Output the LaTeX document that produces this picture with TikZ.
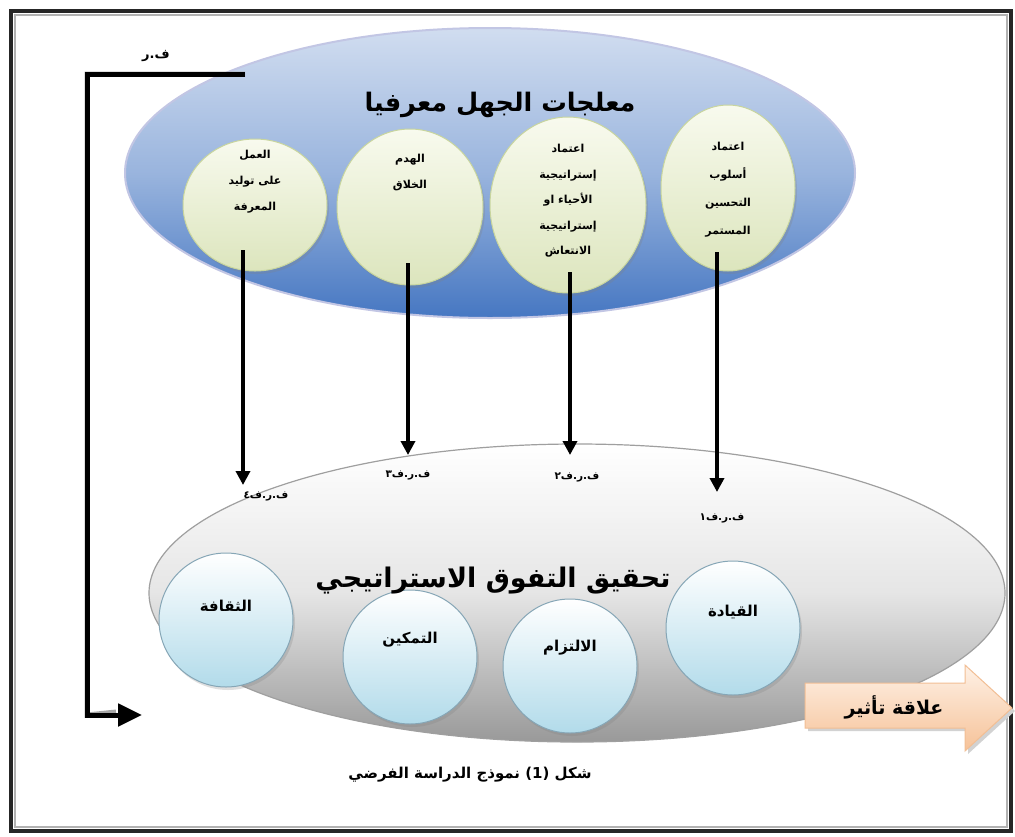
\documentclass[tikz,border=0pt]{standalone}
\usepackage{fontspec}
\TeXXeTstate=1
\newfontfamily\arabicfont[Script=Arabic]{DejaVu Sans}
\usetikzlibrary{shapes.geometric,arrows.meta,shadows}
\newcommand\arln[1]{\beginR #1\endR}

\tikzset{
  bigtop/.style={ellipse, draw=lavframe, line width=2, top color=#1!25!white, bottom color=#1, middle color=#1!55!white, inner sep=0},
  bigbot/.style={ellipse, draw=gray!75, line width=1.2, top color=white, bottom color=gray!80, middle color=gray!20, inner sep=0},
  topcirc/.style={ellipse, draw=greenrim, line width=1, top color=topfill1, bottom color=topfill2, inner sep=0,
    drop shadow={shadow xshift=2pt, shadow yshift=-3pt, opacity=.25}},
  botcirc/.style={circle, draw=bluerim, line width=1, top color=white, bottom color=botfill, inner sep=0,
    minimum size=134, drop shadow={shadow xshift=2pt, shadow yshift=-3pt, opacity=.25}},
  toptext/.style={font=\arabicfont\bfseries\fontsize{11}{26}\selectfont, align=center},
  bottext/.style={font=\arabicfont\bfseries\fontsize{15}{18}\selectfont},
  hyp/.style={font=\arabicfont\bfseries\fontsize{10.5}{12}\selectfont},
  flow/.style={line width=3.5, -{Triangle[length=14,width=14]}},
  fback/.style={line width=5, -{Triangle[length=24,width=22]}},
}
\definecolor{lavframe}{HTML}{C2C6E4}
\definecolor{topblue}{HTML}{4677C2}
\definecolor{greenrim}{HTML}{C8D59E}
\definecolor{topfill1}{HTML}{F8FAEE}
\definecolor{topfill2}{HTML}{DCE5BD}
\definecolor{bluerim}{HTML}{86A6B6}
\definecolor{botfill}{HTML}{B2DBEA}
\definecolor{peach1}{HTML}{FEF1E6}
\definecolor{peach2}{HTML}{F6C298}
\definecolor{peachrim}{HTML}{F2BE94}

\begin{document}
\begin{tikzpicture}[x=1pt,y=-1pt]
\useasboundingbox (0,0) rectangle (1015,836);
\fill[white] (0,0) rectangle (1015,836);

% page frame
\draw[line width=4, black!85] (11,11) rectangle (1011,831);
\draw[line width=1.5, gray!60] (15,15) rectangle (1007,827);

% lower ellipse: strategic superiority
\node[bigbot, minimum width=856, minimum height=298] (bot) at (577,593) {};

% upper ellipse: treating ignorance
\node[bigtop=topblue, minimum width=730, minimum height=290] (top) at (490,173) {};

\node[font=\arabicfont\bfseries\fontsize{25.5}{30}\selectfont] (toptitle) at (500,105) {\arln{معلجات الجهل معرفيا}};

% four treatment circles
\node[topcirc, minimum width=144, minimum height=132] (c1) at (255,205) {};
\node[topcirc, minimum width=146, minimum height=156] (c2) at (410,207) {};
\node[topcirc, minimum width=156, minimum height=176] (c3) at (568,205) {};
\node[topcirc, minimum width=134, minimum height=166] (c4) at (728,188) {};

\node[toptext] (t1) at (255,182) {\arln{العمل}\\\arln{على توليد}\\\arln{المعرفة}};
\node[toptext] (t2) at (410,172) {\arln{الهدم}\\\arln{الخلاق}};
\node[toptext, font=\arabicfont\bfseries\fontsize{11}{25.5}\selectfont] (t3) at (568,201) {\arln{اعتماد}\\\arln{إستراتيجية}\\\arln{الأحياء او}\\\arln{إستراتيجية}\\\arln{الانتعاش}};
\node[toptext, font=\arabicfont\bfseries\fontsize{11}{28}\selectfont] (t4) at (728,190) {\arln{اعتماد}\\\arln{أسلوب}\\\arln{التحسين}\\\arln{المستمر}};

% dimensions of strategic superiority
\node[botcirc] (d1) at (226,620) {};
\node[botcirc] (d2) at (410,657) {};
\node[botcirc] (d3) at (570,666) {};
\node[botcirc] (d4) at (733,628) {};
\node[bottext] (l1) at (226,606) {\arln{الثقافة}};
\node[bottext] (l2) at (410,640) {\arln{التمكين}};
\node[bottext] (l3) at (570,648) {\arln{الالتزام}};
\node[bottext] (l4) at (733,612) {\arln{القيادة}};

% title drawn over the circles
\node[font=\arabicfont\bfseries\fontsize{27}{32}\selectfont] (bottitle) at (493,581) {\arln{تحقيق التفوق الاستراتيجي}};

% sub-hypothesis arrows
\coordinate (s1) at (243,250);
\coordinate (s2) at (408,263);
\coordinate (s3) at (570,272);
\coordinate (s4) at (717,252);
\coordinate (e1) at (243,485);
\coordinate (e2) at (408,455);
\coordinate (e3) at (570,455);
\coordinate (e4) at (717,492);
\draw[flow] (s1) -- (e1);
\draw[flow] (s2) -- (e2);
\draw[flow] (s3) -- (e3);
\draw[flow] (s4) -- (e4);

\node[hyp] (h4) at (266,496) {\arln{ف.ر.ف٤}};
\node[hyp] (h3) at (408,475) {\arln{ف.ر.ف٣}};
\node[hyp] (h2) at (577,477) {\arln{ف.ر.ف٢}};
\node[hyp] (h1) at (722,518) {\arln{ف.ر.ف١}};

% main hypothesis feedback line
\coordinate (fa) at (245,74);
\coordinate (fb) at (87,74);
\coordinate (fc) at (87,715);
\coordinate (fd) at (142,715);
\draw[line width=5, gray!70, shift={(-4,-3)}] (fa) -- (fb) -- (fc) -- (120,715);
\draw[fback] (fa) -- (fb) -- (fc) -- (fd);
\node[hyp, font=\arabicfont\bfseries\fontsize{13}{15}\selectfont] (hm) at (156,56) {\arln{ف.ر}};

% legend block arrow
\fill[gray!35, shift={(3,3)}] (805,683) -- (965,683) -- (965,665) -- (1012,708) -- (965,751) -- (965,728) -- (805,728) -- cycle;
\draw[draw=peachrim, line width=1, top color=peach1, bottom color=peach2]
  (805,683) -- (965,683) -- (965,665) -- (1012,708) -- (965,751) -- (965,728) -- (805,728) -- cycle;
\node[font=\arabicfont\bfseries\fontsize{19}{22}\selectfont] (rel) at (894,707) {\arln{علاقة تأثير}};

% caption
\node[font=\arabicfont\bfseries\fontsize{15}{18}\selectfont] (cap) at (470,775) {\arln{شكل \beginL(1)\endL{} نموذج الدراسة الفرضي}};
\end{tikzpicture}
\end{document}
